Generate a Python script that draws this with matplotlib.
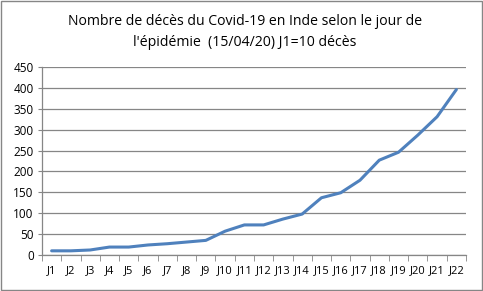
import matplotlib
matplotlib.use("Agg")
import matplotlib.pyplot as plt
import numpy as np

days = [f"J{i}" for i in range(1, 23)]
deaths = [10, 10, 12, 19, 19, 24, 27, 31, 35, 57, 72, 72, 86, 98, 137, 149, 179, 227, 246, 287, 331, 396]
title = "Nombre de décès du Covid-19 en Inde selon le jour de\nl'épidémie  (15/04/20) J1=10 décès"

plt.rcParams['font.family'] = ['Open Sans', 'DejaVu Sans']
fig = plt.figure(figsize=(4.83, 2.91), dpi=100)
ax = fig.add_axes([42/483, 1-255/291, (466-42)/483, (255-67)/291])

x = np.arange(len(days))
ax.plot(x, deaths, color='#4F81BD', lw=2.2, solid_capstyle='round', solid_joinstyle='round')
ax.set_xlim(-0.5, len(days)-0.5)
ax.set_ylim(0, 450)
ax.set_yticks(range(0, 451, 50))
ax.yaxis.grid(True, color='#868686', lw=0.9)
ax.set_axisbelow(True)
ax.set_xticks(x)
ax.set_xticklabels(days)
ax.set_xticks(np.arange(-0.5, len(days), 1), minor=True)
ax.tick_params(axis='x', which='major', length=0, labelsize=8, pad=7, colors='black')
ax.tick_params(axis='x', which='minor', length=4, color='#868686', direction='out')
ax.tick_params(axis='y', length=3, color='#868686', labelsize=8.5, pad=3)
for s in ['top', 'right']:
    ax.spines[s].set_visible(False)
for s in ['left', 'bottom']:
    ax.spines[s].set_color('#868686')
    ax.spines[s].set_linewidth(0.9)

fig.text(245/483, 1-32/291, title, ha='center', va='center', fontsize=10.1, linespacing=1.55)
fig.patches.append(plt.Rectangle((0.003, 0.004), 0.994, 0.992, transform=fig.transFigure,
                                 fill=False, edgecolor='#868686', lw=1))
fig.savefig('out.png', dpi=100)
